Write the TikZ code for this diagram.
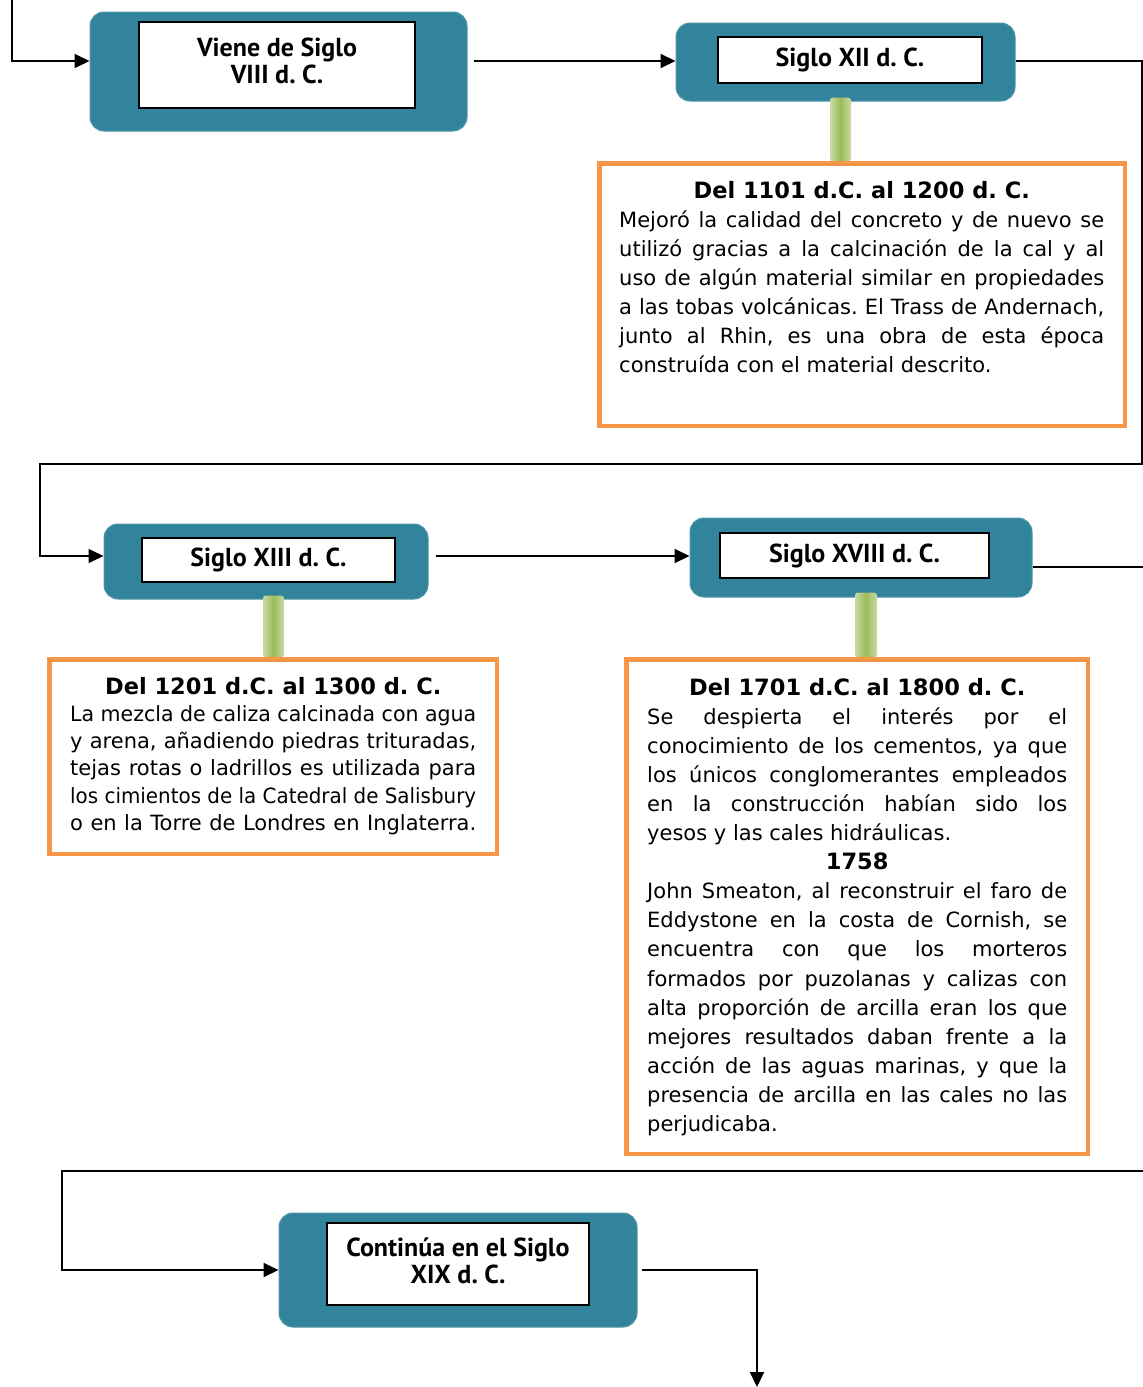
\documentclass[tikz,border=0pt]{standalone}
\usepackage{fontspec}
\usepackage{graphicx}
\setmainfont{DejaVu Sans}
\newfontfamily\titlefont{PT Sans}
\usetikzlibrary{arrows.meta,calc}
\definecolor{tealbox}{HTML}{31849B}
\definecolor{orangeb}{HTML}{F79646}
\definecolor{greenc}{HTML}{9BBB59}
\definecolor{greenl}{HTML}{C9DBA5}
\frenchspacing

\newlength\jlw
\newlength\natw
\newcommand\jl[1]{\settowidth\natw{#1}\ifdim\natw>\jlw\hbox{\resizebox{\jlw}{\height}{#1}}\else\hbox{\makebox[\jlw][s]{#1}}\fi}
\newcommand\lastln[1]{\settowidth\natw{#1}\ifdim\natw>\jlw\hbox{\resizebox{\jlw}{\height}{#1}}\else\hbox to\jlw{#1\hfil}\fi}
\newcommand\ctrln[1]{\hbox to\jlw{\hfil#1\hfil}}
\newcommand\hdr[1]{\ctrln{\fontsize{22.5}{29}\selectfont\bfseries #1}}
\newcommand\textblock[3]{\vtop{\setlength\jlw{#1}\baselineskip=#2\lineskiplimit=-\maxdimen\lineskip=0pt #3}}

\begin{document}
\begin{tikzpicture}[x=1pt,y=-1pt,
 tealb/.style={fill=tealbox, draw=tealbox!85!white, line width=1pt, rounded corners=14pt, inner sep=0pt},
 wbox/.style={draw=black, line width=1.8pt, fill=white, inner sep=0pt, align=center,
   font=\titlefont\bfseries\fontsize{26}{28}\selectfont},
 obox/.style={draw=orangeb, line width=3pt, fill=white, inner sep=0pt},
 body/.style={anchor=base west, inner sep=0pt, font=\fontsize{21}{29}\selectfont},
 arr/.style={line width=2pt, -{Triangle[length=15pt,width=14pt]}},
 thinl/.style={line width=1.5pt},
 greenbar/.style={left color=greenl, right color=greenl, middle color=greenc, rounded corners=3pt}
]
\useasboundingbox[fill=white] (0,0) rectangle (1143,1387);

% teal boxes with white title boxes
\node[tealb, minimum width=377pt, minimum height=119pt] (t1) at (278.5,71.5) {};
\node[wbox, minimum width=276pt, minimum height=86pt] (w1) at (277,65) {\raisebox{8pt}{\shortstack{Viene de Siglo\\[0pt]VIII d. C.}}};

\node[tealb, minimum width=339pt, minimum height=78pt] (t2) at (845.5,62) {};
\node[wbox, minimum width=264pt, minimum height=46pt] (w2) at (850,60) {Siglo XII d. C.};

\node[tealb, minimum width=324pt, minimum height=75pt] (t3) at (266,561.5) {};
\node[wbox, minimum width=253pt, minimum height=44pt] (w3) at (268.5,560) {Siglo XIII d. C.};

\node[tealb, minimum width=342pt, minimum height=79pt] (t4) at (861,557.5) {};
\node[wbox, minimum width=269pt, minimum height=45pt] (w4) at (854.5,555.5) {Siglo XVIII d. C.};

\node[tealb, minimum width=358pt, minimum height=114pt] (t5) at (458,1270) {};
\node[wbox, minimum width=262pt, minimum height=82pt] (w5) at (458,1264) {\raisebox{7pt}{\shortstack{Continúa en el Siglo\\[0pt]XIX d. C.}}};

% orange boxes (positions)
\node[obox, minimum width=524pt, minimum height=261pt] (o1) at (862,294.5) {};
\node[obox, minimum width=446pt, minimum height=193pt] (o2) at (273,756.5) {};
\node[obox, minimum width=460pt, minimum height=493pt] (o3) at (857,906.5) {};

% green connectors
\shade[greenbar] ($(t2.south)+(-15.5,-4)$) rectangle ($(o1.north)+(-11,-1)$);
\shade[greenbar] ($(t3.south)+(-3,-4)$) rectangle ($(o2.north)+(11,-1)$);
\shade[greenbar] ($(t4.south)+(-6,-5)$) rectangle ($(o3.north)+(20,-1)$);
% redraw orange borders over the green bars
\draw[draw=orangeb, line width=3pt] (o1.north west) rectangle (o1.south east);
\draw[draw=orangeb, line width=3pt] (o2.north west) rectangle (o2.south east);
\draw[draw=orangeb, line width=3pt] (o3.north west) rectangle (o3.south east);

% texts
\node[body] (x1) at (619,198) {\textblock{485pt}{29pt}{%
\hdr{Del 1101 d.C. al 1200 d. C.}
\jl{Mejoró la calidad del concreto y de nuevo se}
\jl{utilizó gracias a la calcinación de la cal y al}
\jl{uso de algún material similar en propiedades}
\jl{a las tobas volcánicas. El Trass de Andernach,}
\jl{junto al Rhin, es una obra de esta época}
\lastln{construída con el material descrito.}}};

\node[body] (x2) at (70,694) {\textblock{406pt}{27.3pt}{%
\hdr{Del 1201 d.C. al 1300 d. C.}
\jl{La mezcla de caliza calcinada con agua}
\jl{y arena, añadiendo piedras trituradas,}
\jl{tejas rotas o ladrillos es utilizada para}
\jl{los cimientos de la Catedral de Salisbury}
\jl{o en la Torre de Londres en Inglaterra.}}};

\node[body] (x3) at (647,695) {\textblock{420pt}{29.1pt}{%
\hdr{Del 1701 d.C. al 1800 d. C.}
\jl{Se despierta el interés por el}
\jl{conocimiento de los cementos, ya que}
\jl{los únicos conglomerantes empleados}
\jl{en la construcción habían sido los}
\lastln{yesos y las cales hidráulicas.}
\hdr{1758}
\jl{John Smeaton, al reconstruir el faro de}
\jl{Eddystone en la costa de Cornish, se}
\jl{encuentra con que los morteros}
\jl{formados por puzolanas y calizas con}
\jl{alta proporción de arcilla eran los que}
\jl{mejores resultados daban frente a la}
\jl{acción de las aguas marinas, y que la}
\jl{presencia de arcilla en las cales no las}
\lastln{perjudicaba.}}};

% connectors
\coordinate (s0) at (12,0);
\draw[arr] (s0) |- ([yshift=10.5pt]t1.west);
\draw[arr] ([xshift=6pt,yshift=10.5pt]t1.east) -- ([yshift=1pt]t2.west);
\coordinate (r1) at (1142,464);
\coordinate (l1) at (40,464);
\draw[arr, line width=1.5pt] ([yshift=1pt]t2.east) -| (r1) -- (l1) |- ([yshift=5.5pt]t3.west);
\draw[arr] ([xshift=7pt,yshift=5.5pt]t3.east) -- ([yshift=1.5pt]t4.west);
\coordinate (e4) at (1143,567);
\draw[thinl] ([yshift=-9.5pt]t4.east) -- (e4);
\coordinate (e5) at (1143,1171);
\coordinate (l5) at (62,1171);
\draw[arr] (e5) -- (l5) |- (t5.west);
\coordinate (b5) at (757,1387);
\draw[arr] ([xshift=4pt]t5.east) -| (b5);
\end{tikzpicture}
\end{document}
